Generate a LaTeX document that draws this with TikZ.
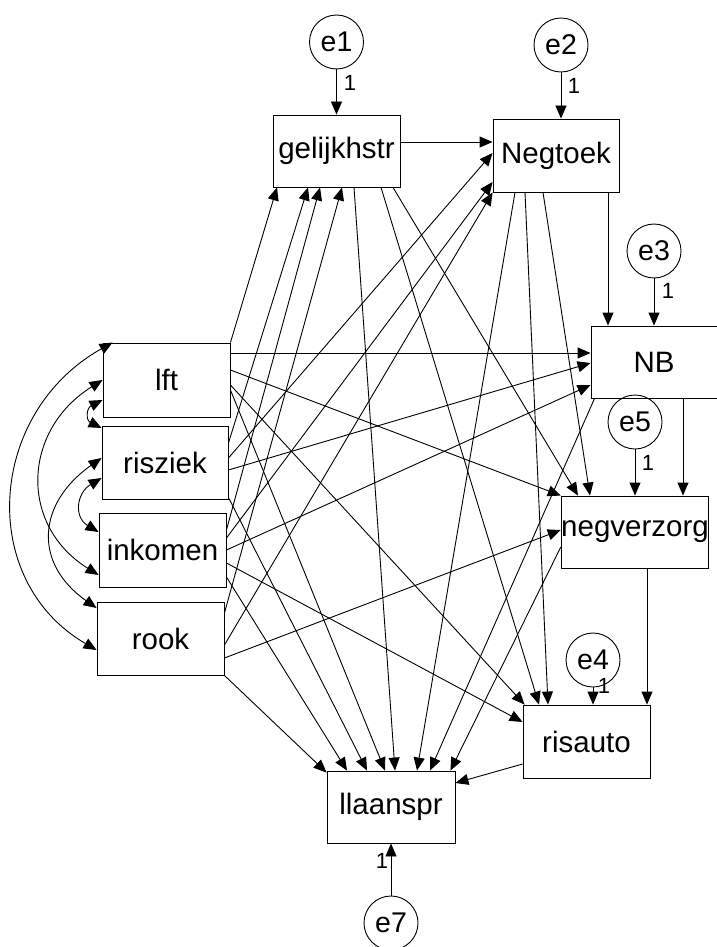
\documentclass[tikz,border=0pt]{standalone}
\usepackage{fontspec}
\setmainfont{Liberation Sans}
\usetikzlibrary{arrows.meta,calc}
\begin{document}
\begin{tikzpicture}[x=1pt,y=-1pt,
  line width=0.9pt,
  var/.style={draw, rectangle, inner sep=0pt, font=\fontsize{29.5}{34}\selectfont},
  err/.style={draw, circle, minimum size=54pt, inner sep=0pt, font=\fontsize{28.5}{33}\selectfont},
  arr/.style={-{Triangle[length=13pt,width=11pt]}},
  cov/.style={{Triangle[length=13pt,width=11pt]}-{Triangle[length=13pt,width=11pt]}},
  one/.style={font=\fontsize{22}{26}\selectfont, inner sep=0pt},
]
\useasboundingbox (0,0) rectangle (716,947);

% observed variables
\node[var, minimum width=127pt, minimum height=72pt] (gelijkhstr) at (336.5,151) {gelijkhstr};
\node[var, minimum width=126pt, minimum height=73pt] (Negtoek) at (556,155.5) {Negtoek};
\node[var, minimum width=126pt, minimum height=72pt] (NB) at (654,362) {NB};
\node[var, minimum width=128pt, minimum height=72pt] (negverzorg) at (635,532) {negverzorg};
\node[var, minimum width=127pt, minimum height=73pt] (risauto) at (586.5,741.5) {risauto};
\node[var, minimum width=128pt, minimum height=72pt] (llaanspr) at (391,807) {llaanspr};
\node[var, minimum width=127pt, minimum height=74pt] (lft) at (166.5,380) {lft};
\node[var, minimum width=126pt, minimum height=73pt] (risziek) at (165,462.5) {risziek};
\node[var, minimum width=127pt, minimum height=74pt] (inkomen) at (162.5,550) {inkomen};
\node[var, minimum width=127pt, minimum height=73pt] (rook) at (160.5,638.5) {rook};

% error terms
\node[err] (e1) at (336.5,42) {e1};
\node[err] (e2) at (561,45) {e2};
\node[err] (e3) at (654,251) {e3};
\node[err] (e5) at (635,422) {e5};
\node[err] (e4) at (593,660) {e4};
\node[err] (e7) at (391,923) {e7};

% error paths fixed at 1
\draw[arr] (e1.south) -- (gelijkhstr.north);
\draw[arr] (e2.south) -- (e2.south |- Negtoek.north);
\draw[arr] (e3.south) -- (NB.north);
\draw[arr] (e5.south) -- (negverzorg.north);
\draw[arr] (e4.south) -- (e4.south |- risauto.north);
\draw[arr] (e7.north) -- (llaanspr.south);
\node[one] (w1) at (350,83) {1};
\node[one] (w2) at (574,86) {1};
\node[one] (w3) at (668,291) {1};
\node[one] (w5) at (648,463) {1};
\node[one] (w4) at (604,686) {1};
\node[one] (w7) at (382,861) {1};

% exogenous -> gelijkhstr
\draw[arr] (lft.north east) -- ($(gelijkhstr.south)+(-59.5,0)$);
\draw[arr] ($(risziek.east)+(0,-19.5)$) -- ($(gelijkhstr.south)+(-28.5,0)$);
\draw[arr] ($(inkomen.east)+(0,-20)$) -- ($(gelijkhstr.south)+(-16.5,0)$);
\draw[arr] ($(rook.east)+(0,-25.5)$) -- ($(gelijkhstr.south)+(5.5,0)$);
% exogenous -> Negtoek
\draw[arr] ($(risziek.east)+(0,-4.5)$) -- ($(Negtoek.west)+(0,-2.5)$);
\draw[arr] ($(inkomen.east)+(0,-12)$) -- ($(Negtoek.west)+(0,26.5)$);
\draw[arr] ($(rook.east)+(0,6.5)$) -- (Negtoek.south west);
% exogenous -> NB
\draw[arr] ($(lft.east)+(0,-27)$) -- ($(NB.west)+(0,-9)$);
\draw[arr] ($(risziek.east)+(0,7.5)$) -- ($(NB.west)+(0,1)$);
\draw[arr] (inkomen.east) -- ($(NB.west)+(0,23)$);
% exogenous -> negverzorg
\draw[arr] ($(lft.east)+(0,-10)$) -- (negverzorg.north west);
\draw[arr] ($(rook.east)+(0,19.5)$) -- ($(negverzorg.west)+(0,-2)$);
% exogenous -> risauto
\draw[arr] ($(lft.east)+(0,5)$) -- ($(risauto.north west)+(2,0)$);
\draw[arr] ($(inkomen.east)+(0,13)$) -- ($(risauto.west)+(0,-19.5)$);
% exogenous -> llaanspr
\draw[arr] ($(lft.east)+(0,10)$) -- ($(llaanspr.north)+(-6,0)$);
\draw[arr] ($(risziek.south east)+(0,-2)$) -- ($(llaanspr.north)+(-24,0)$);
\draw[arr] ($(inkomen.east)+(0,27)$) -- ($(llaanspr.north)+(-44,0)$);
\draw[arr] (rook.south east) -- ($(llaanspr.north west)+(0,2)$);

% gelijkhstr ->
\draw[arr] ($(gelijkhstr.east)+(0,-9)$) -- ($(Negtoek.west)+(0,-13.5)$);
\draw[arr] ($(gelijkhstr.south)+(17.5,0)$) -- ($(llaanspr.north)+(4,0)$);
\draw[arr] ($(gelijkhstr.south)+(44.5,0)$) -- ($(risauto.north)+(-47.5,0)$);
\draw[arr] ($(gelijkhstr.south)+(56.5,0)$) -- ($(negverzorg.north)+(-57,0)$);
% Negtoek ->
\draw[arr] ($(Negtoek.south)+(52,0)$) -- ($(NB.north)+(-46,0)$);
\draw[arr] ($(Negtoek.south)+(-41,0)$) -- ($(llaanspr.north)+(26,0)$);
\draw[arr] ($(Negtoek.south)+(-31,0)$) -- ($(risauto.north)+(-38.5,0)$);
\draw[arr] ($(Negtoek.south)+(-13,0)$) -- ($(negverzorg.north)+(-45,0)$);
% NB ->
\draw[arr] ($(NB.south)+(29,0)$) -- ($(negverzorg.north)+(48,0)$);
\draw[arr] ($(NB.south west)+(4,0)$) -- ($(llaanspr.north)+(39,0)$);
% negverzorg ->
\draw[arr] ($(negverzorg.south)+(12,0)$) -- ($(risauto.north)+(60.5,0)$);
\draw[arr] ($(negverzorg.west)+(0,15)$) -- ($(llaanspr.north east)+(-5,0)$);
% risauto ->
\draw[arr] ($(risauto.west)+(0,22.5)$) -- ($(llaanspr.east)+(0,-24)$);

% covariances among exogenous variables
\draw[cov] ($(lft.north west)+(10,0)$) .. controls +(-125,70) and +(-120,-70) .. ($(rook.west)+(0,11.5)$);
\draw[cov] (lft.west) .. controls +(-80,50) and +(-80,-50) .. ($(inkomen.west)+(0,25)$);
\draw[cov] ($(risziek.west)+(0,-4.5)$) .. controls +(-64,45) and +(-64,-45) .. ($(rook.west)+(0,-30.5)$);
\draw[cov] ($(lft.west)+(0,20)$) .. controls +(-16,8) and +(-16,-8) .. ($(risziek.west)+(0,-34.5)$);
\draw[cov] ($(risziek.west)+(0,15.5)$) .. controls +(-25,15) and +(-25,-15) .. ($(inkomen.west)+(0,-18)$);
\end{tikzpicture}
\end{document}
